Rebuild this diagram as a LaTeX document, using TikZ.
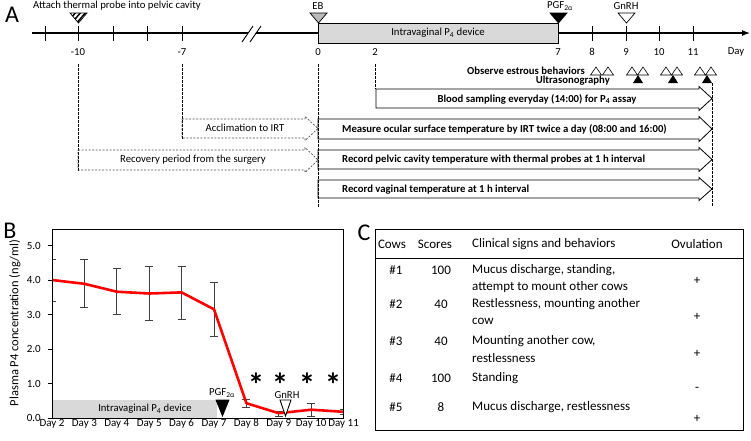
\documentclass[tikz,border=0pt]{standalone}
\usepackage{fontspec}
\setmainfont{Carlito}
\usetikzlibrary{arrows.meta}
\newcommand\blkarrow[5]{%
  \draw[#1] (#2,#4) -- ({#3-13},#4) -- ({#3-13},{#4-2.5}) -- (#3,{(#4+#5)/2}) -- ({#3-13},{#5+2.5}) -- ({#3-13},#5) -- (#2,#5) -- cycle;}
\begin{document}
\begin{tikzpicture}[x=1pt,y=-1pt,
  lbl/.style={font=\fontsize{10.7}{12}\selectfont, inner sep=0pt},
  blbl/.style={font=\fontsize{10.7}{12}\selectfont\bfseries, inner sep=0pt},
  axl/.style={font=\fontsize{11}{12}\selectfont, inner sep=0pt},
  tlbl/.style={font=\fontsize{13}{15}\selectfont, inner sep=0pt},
  big/.style={font=\fontsize{24}{26}\selectfont, inner sep=0pt},
  vdash/.style={dash pattern=on 2.5pt off 1.5pt, line width=0.7pt},
  solidarrow/.style={line width=0.8pt, fill=white},
  dasharrow/.style={line width=0.7pt, dash pattern=on 2pt off 1.5pt, gray!60!black},
  tri/.style={line width=0.7pt},
  ebar/.style={line width=1pt, black!75}]
\useasboundingbox (0,0) rectangle (751,440);
% ---------------- Panel A ----------------
\node[big] (lA) at (12,15) {A};
% timeline
\draw[line width=1.1pt, -{Latex[length=8pt,width=6pt]}] (32,33) -- (750,33);
\foreach \x in {45,78,113,147,182,592,626,659,693}
  \draw[line width=0.9pt] (\x,26) -- (\x,41);
% break marks
\fill[white] (243,40) -- (250,40) -- (261,26) -- (254,26) -- cycle;
\draw[line width=0.9pt] (242,42) -- (253,26);
\draw[line width=0.9pt] (250,42) -- (261,26);
% gray box
\draw[line width=0.9pt, fill=gray!30] (318,23) rectangle (558,43);
\node[lbl] (ivd) at (438,33) {Intravaginal P\textsubscript{4} device};
% day labels
\node[lbl] (dm10) at (78,52) {-10};
\node[lbl] (dm7) at (182,52) {-7};
\node[lbl] (d0) at (318,52) {0};
\node[lbl] (d2) at (375,52) {2};
\node[lbl] (d7) at (558,52) {7};
\node[lbl] (d8) at (592,52) {8};
\node[lbl] (d9) at (626,52) {9};
\node[lbl] (d10) at (659,52) {10};
\node[lbl] (d11) at (693,52) {11};
\node[lbl] (dday) at (736,52) {Day};
% top triangles
\begin{scope}
  \clip (70,13) -- (87,13) -- (78.5,23) -- cycle;
  \foreach \i in {60,65,...,95} \draw[line width=1.5pt] (\i,25) -- (\i+12,11);
\end{scope}
\draw[tri] (70,13) -- (87,13) -- (78.5,23) -- cycle;
\node[lbl, anchor=west] (attach) at (33,6) {Attach thermal probe into pelvic cavity};
\draw[tri, fill=gray!55] (310,13) -- (327,13) -- (318.5,23) -- cycle;
\node[lbl] (eb) at (318,6) {EB};
\draw[tri, fill=black] (550,13) -- (567,13) -- (558.5,23) -- cycle;
\node[lbl] (pgfA) at (560,6) {PGF\textsubscript{2α}};
\draw[tri, fill=white] (618,13) -- (635,13) -- (626.5,23) -- cycle;
\node[lbl] (gnrhA) at (626,6) {GnRH};
% estrous observation triangles
\foreach \x in {596,608,632,643,666,677,700,711}
  \draw[line width=0.6pt] (\x-5.5,75) -- (\x+5.5,75) -- (\x,67) -- cycle;
\foreach \x in {638,673,707}
  \fill (\x-5,83) -- (\x+5,83) -- (\x,75) -- cycle;
\node[blbl, anchor=east] (obs) at (585,71) {Observe estrous behaviors};
\node[blbl, anchor=east] (us) at (610,81) {Ultrasonography};
% vertical dashed lines
\draw[vdash] (78,64) -- (78,172);
\draw[vdash] (182,64) -- (182,140);
\draw[vdash] (375,64) -- (375,89);
% arrows
\blkarrow{dasharrow}{182}{318}{119}{138}
\blkarrow{dasharrow}{78}{318}{150}{170}
\node[lbl] (accl) at (245,128) {Acclimation to IRT};
\node[lbl] (recov) at (193,160) {Recovery period from the surgery};
\blkarrow{solidarrow}{376}{712}{89}{108}
\blkarrow{solidarrow}{318}{712}{119}{139}
\blkarrow{solidarrow}{318}{712}{150}{169}
\blkarrow{solidarrow}{318}{712}{180}{198}
\node[blbl] (blood) at (537,99) {Blood sampling everyday (14:00) for P\textsubscript{4} assay};
\node[blbl, anchor=west] (ocular) at (342,129) {Measure ocular surface temperature by IRT twice a day (08:00 and 16:00)};
\node[blbl, anchor=west] (pelvic) at (342,160) {Record pelvic cavity temperature with thermal probes at 1 h interval};
\node[blbl, anchor=west] (vagin) at (342,190) {Record vaginal temperature at 1 h interval};
\draw[vdash] (318,64) -- (318,207);
\draw[vdash] (712,83) -- (712,207);
% ---------------- Panel B ----------------
\node[big] (lB) at (10,231) {B};
\fill[gray!30] (52,400) rectangle (217,418);
\node[lbl] (ivdB) at (145,409) {Intravaginal P\textsubscript{4} device};
% y ticks
\foreach \v/\t in {0/0.0,1/1.0,2/2.0,3/3.0,4/4.0,5/5.0} {
  \draw[line width=0.6pt] (48,{418-34.5*\v}) -- (52,{418-34.5*\v});
  \node[axl, anchor=east] at (41,{418-34.5*\v}) {\t};
}
\node[font=\fontsize{12.5}{14}\selectfont, inner sep=0pt, rotate=90] (ylab) at (15,323) {Plasma P4 concentration (ng/ml)};
% x labels
\foreach \i [count=\k from 0] in {2,...,11}
  \node[axl] at ({52+32.4*\k},424) {Day \i};
% error bars
\begin{scope}
\clip (52,229) rectangle (343.6,418);
\foreach \k/\top/\bot in {0/259/301.7,1/259/307.7,2/268/314.3,3/266.7/320.7,4/266.7/319,5/282.3/336.7,6/399.3/407.3,7/411/416,8/403.3/416,9/409/414.5} {
  \draw[ebar] ({52+32.4*\k},\top) -- ({52+32.4*\k},\bot);
  \draw[ebar] ({52+32.4*\k-4},\top) -- ({52+32.4*\k+4},\top);
  \draw[ebar] ({52+32.4*\k-4},\bot) -- ({52+32.4*\k+4},\bot);
}
\end{scope}
% red line
\draw[red, line width=2.6pt, line join=round]
  (52,280) -- (84.4,283.8) -- (116.8,291.7) -- (149.2,293.5) -- (181.6,292.4)
  -- (214,309.3) -- (246.4,403.2) -- (278.8,413.2) -- (311.2,409.7) -- (343.6,411.8);
\draw[line width=0.9pt] (52,229) rectangle (343.6,418);
% markers
\draw[tri, fill=black] (216,400) -- (229,400) -- (222.5,416) -- cycle;
\node[lbl] (pgfB) at (222,393) {PGF\textsubscript{2α}};
\draw[tri, line width=0.9pt, fill=white] (280,400) -- (291,400) -- (285.5,416) -- cycle;
\node[lbl] (gnrhB) at (287,395) {GnRH};
\foreach \x [count=\n] in {256,280,307,333}
  \node[font=\fontsize{33}{33}\selectfont\bfseries, inner sep=0pt] (ast\n) at (\x,377) {\raisebox{-0.58em}[0pt][0pt]{*}};
% ---------------- Panel C ----------------
\node[big] (lC) at (364,233) {C};
\draw[line width=0.9pt] (375,229) rectangle (743,430);
\draw[line width=0.6pt] (375,258) -- (743,258);
\node[tlbl] (hc) at (392,244) {Cows};
\node[tlbl] (hs) at (435,244) {Scores};
\node[tlbl, anchor=west] (hcl) at (472,244) {Clinical signs and behaviors};
\node[tlbl] (ho) at (697,244) {Ovulation};
\node[tlbl] (c1) at (396,270) {\#1};
\node[tlbl] (s1) at (441,270) {100};
\node[tlbl, anchor=west] (t1a) at (472,270) {Mucus discharge, standing,};
\node[tlbl, anchor=west] (t1b) at (472,287) {attempt to mount other cows};
\node[tlbl] (o1) at (697,281) {+};
\node[tlbl] (c2) at (396,304) {\#2};
\node[tlbl] (s2) at (441,304) {40};
\node[tlbl, anchor=west] (t2a) at (472,304) {Restlessness, mounting another};
\node[tlbl, anchor=west] (t2b) at (472,321) {cow};
\node[tlbl] (o2) at (697,317) {+};
\node[tlbl] (c3) at (396,341) {\#3};
\node[tlbl] (s3) at (441,341) {40};
\node[tlbl, anchor=west] (t3a) at (472,341) {Mounting another cow,};
\node[tlbl, anchor=west] (t3b) at (472,358) {restlessness};
\node[tlbl] (o3) at (697,354) {+};
\node[tlbl] (c4) at (396,378) {\#4};
\node[tlbl] (s4) at (441,378) {100};
\node[tlbl, anchor=west] (t4a) at (472,378) {Standing};
\node[tlbl] (o4) at (697,389) {-};
\node[tlbl] (c5) at (396,407) {\#5};
\node[tlbl] (s5) at (441,407) {8};
\node[tlbl, anchor=west] (t5a) at (472,407) {Mucus discharge, restlessness};
\node[tlbl] (o5) at (697,419) {+};
\end{tikzpicture}
\end{document}
